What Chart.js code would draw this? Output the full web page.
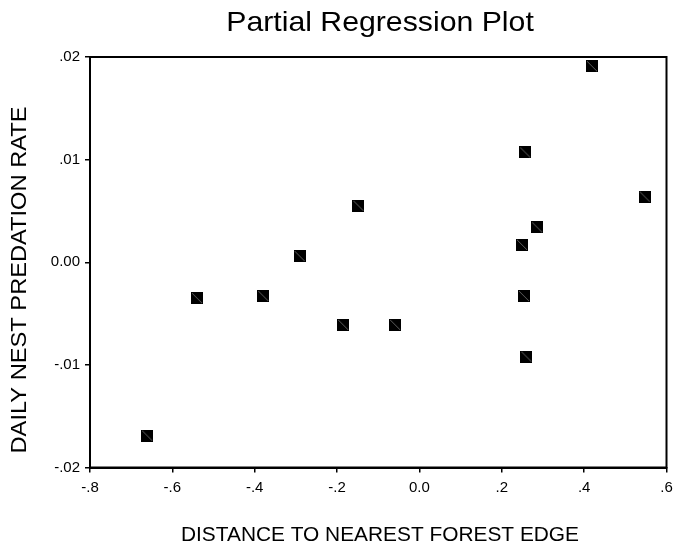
<!DOCTYPE html>
<html>
<head>
<meta charset="utf-8">
<script src="https://cdn.jsdelivr.net/npm/chart.js@4/dist/chart.umd.min.js"></script>
<style>
  html, body { margin: 0; padding: 0; background: #fff; }
  #wrap { width: 674px; height: 551px; }
</style>
</head>
<body>
<div id="wrap"><canvas id="plot" width="674" height="551"></canvas></div>
<script>
// --- DATA ---
const distanceValues = [-0.661, -0.540, -0.379, -0.291, -0.185, -0.148, -0.059, 0.249, 0.254, 0.260, 0.257, 0.286, 0.419, 0.547];
const predationValues = [-0.0169, -0.0035, -0.0033, 0.0006, -0.0061, 0.0055, -0.0061, 0.0017, -0.0033, -0.0092, 0.0107, 0.0034, 0.0191, 0.0064];

const xTickValues = [-0.8, -0.6, -0.4, -0.2, 0, 0.2, 0.4, 0.6];
const xTickLabels = ['-.8', '-.6', '-.4', '-.2', '0.0', '.2', '.4', '.6'];
const yTickValues = [-0.02, -0.01, 0, 0.01, 0.02];
const yTickLabels = ['-.02', '-.01', '0.00', '.01', '.02'];

const chartTitle = 'Partial Regression Plot';
const xTitle = 'DISTANCE TO NEAREST FOREST EDGE';
const yTitle = 'DAILY NEST PREDATION RATE';

const FONT = "'Liberation Sans', Arial, sans-serif";

// square marker with a thin light diagonal, like the SPSS one
function makeMarker() {
  const c = document.createElement('canvas');
  c.width = 12; c.height = 12;
  const g = c.getContext('2d');
  g.fillStyle = '#000';
  g.fillRect(0, 0, 12, 12);
  g.strokeStyle = '#777';
  g.lineWidth = 0.8;
  g.beginPath();
  g.moveTo(1, 1);
  g.lineTo(11, 11);
  g.stroke();
  return c;
}

// the original face runs a bit wider than Arial, so stretch along the text
function drawText(ctx, txt, x, y, size, stretch, angle) {
  ctx.save();
  ctx.translate(x, y);
  if (angle) ctx.rotate(angle);
  ctx.scale(stretch, 1);
  ctx.font = size + 'px ' + FONT;
  ctx.fillText(txt, 0, 0);
  ctx.restore();
}

// frame + titles
const framePlugin = {
  id: 'frame',
  afterDraw(chart) {
    const { ctx, chartArea: a } = chart;
    ctx.save();
    ctx.strokeStyle = '#000';
    ctx.lineWidth = 2;
    ctx.strokeRect(a.left, a.top, a.right - a.left, a.bottom - a.top);

    ctx.fillStyle = '#000';
    ctx.textAlign = 'center';
    ctx.textBaseline = 'middle';
    drawText(ctx, chartTitle, 380, 23, 28, 1.08, 0);
    drawText(ctx, xTitle, 380, 536, 19.5, 1.07, 0);
    drawText(ctx, yTitle, 20, 280, 21.5, 1.1, -Math.PI / 2);
    ctx.restore();
  }
};

const points = distanceValues.map((x, i) => ({ x: x, y: predationValues[i] }));

new Chart(document.getElementById('plot'), {
  type: 'scatter',
  data: {
    datasets: [{
      data: points,
      pointStyle: makeMarker(),
      pointRadius: 6,
      pointHoverRadius: 6
    }]
  },
  options: {
    responsive: false,
    animation: false,
    layout: { padding: { top: 57, right: 7.5, left: 0, bottom: 0 } },
    plugins: {
      legend: { display: false },
      tooltip: { enabled: false },
      title: { display: false }
    },
    scales: {
      x: {
        type: 'linear',
        min: -0.8,
        max: 0.6,
        afterBuildTicks: s => { s.ticks = xTickValues.map(v => ({ value: v })); },
        afterFit: s => { s.height = 83.5; s.paddingLeft = 0; s.paddingRight = 0; },
        ticks: {
          color: '#000',
          font: { family: FONT, size: 15 },
          padding: 6,
          maxRotation: 0,
          callback: (v, i) => xTickLabels[i]
        },
        grid: { display: true, drawOnChartArea: false, drawTicks: true, tickLength: 5, color: '#000', lineWidth: 1.5 },
        border: { display: true, color: '#000', width: 2 }
      },
      y: {
        type: 'linear',
        min: -0.02,
        max: 0.02,
        afterBuildTicks: s => { s.ticks = yTickValues.map(v => ({ value: v })); },
        afterFit: s => { s.width = 90; },
        ticks: {
          color: '#000',
          font: { family: FONT, size: 15 },
          padding: 5,
          callback: (v, i) => yTickLabels[i]
        },
        grid: { display: true, drawOnChartArea: false, drawTicks: true, tickLength: 5, color: '#000', lineWidth: 1.5 },
        border: { display: true, color: '#000', width: 2 }
      }
    }
  },
  plugins: [framePlugin]
});
</script>
</body>
</html>
